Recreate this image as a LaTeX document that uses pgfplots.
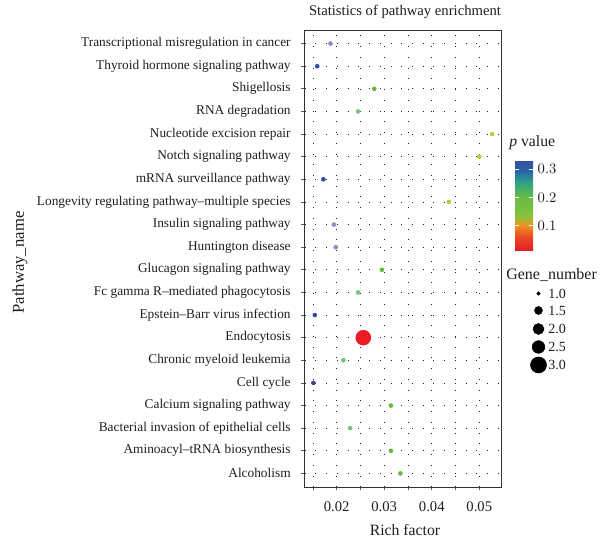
\documentclass[border=0pt]{standalone}
\usepackage{pgfplots}
\pgfplotsset{compat=1.18}
\usepackage{fontspec}
\setmainfont{Liberation Serif}
\definecolor{cblue}{RGB}{51,73,165}
\definecolor{clav}{RGB}{142,134,201}
\definecolor{cgrl}{RGB}{136,143,196}
\definecolor{cgreen}{RGB}{98,186,60}
\definecolor{cmint}{RGB}{118,196,124}
\definecolor{cyg}{RGB}{178,210,53}
\definecolor{cred}{RGB}{237,28,36}
\definecolor{txt}{RGB}{30,30,30}
\begin{document}
\begin{tikzpicture}[x=0.75pt,y=0.75pt]
\useasboundingbox (0,0) rectangle (600,541);
\begin{axis}[
  at={(228.5pt,40.5pt)}, anchor=south west,
  scale only axis, width=147.25pt, height=342.75pt,
  xmin=0.01326, xmax=0.05457, ymin=0.4, ymax=20.6,
  xtick={0.02,0.03,0.04,0.05},
  minor xtick={0.015,0.025,0.035,0.045},
  scaled x ticks=false,
  ytick={1,...,20},
  yticklabels={Alcoholism,
    Aminoacyl--tRNA biosynthesis,
    Bacterial invasion of epithelial cells,
    Calcium signaling pathway,
    Cell cycle,
    Chronic myeloid leukemia,
    Endocytosis,
    Epstein--Barr virus infection,
    Fc gamma R--mediated phagocytosis,
    Glucagon signaling pathway,
    Huntington disease,
    Insulin signaling pathway,
    Longevity regulating pathway--multiple species,
    mRNA surveillance pathway,
    Notch signaling pathway,
    Nucleotide excision repair,
    RNA degradation,
    Shigellosis,
    Thyroid hormone signaling pathway,
    Transcriptional misregulation in cancer},
  xtick pos=left, ytick pos=left,
  tick align=outside, major tick length=2.5pt, minor tick length=2.5pt,
  major tick style={black!65, line width=0.5pt},
  minor tick style={black!65, line width=0.5pt},
  axis line style={black!80, line width=0.7pt},
  xmajorgrids, xminorgrids, ymajorgrids,
  major grid style={black!85, line width=0.55pt, dash pattern=on 0.55pt off 7.5pt},
  minor grid style={black!85, line width=0.55pt, dash pattern=on 0.55pt off 7.5pt},
  yticklabel style={font=\fontsize{10}{11}\selectfont, txt, xshift=-4.5pt},
  /pgf/number format/assume math mode=true,
  xticklabel style={font=\fontsize{11}{12}\selectfont, txt, yshift=-5pt, /pgf/number format/fixed, /pgf/number format/fixed zerofill, /pgf/number format/precision=2},
  colormap={pv}{[1pt] rgb255(0pt)=(228,30,38); rgb255(16pt)=(234,80,36); rgb255(27pt)=(240,145,32); rgb255(38pt)=(135,195,62); rgb255(60pt)=(100,186,72); rgb255(76pt)=(45,160,140); rgb255(88pt)=(40,100,170); rgb255(100pt)=(56,76,160)},
  point meta min=0.014, point meta max=0.332,
  colorbar,
  colorbar style={
    at={(1.0714,0.7155)}, anchor=north west,
    scale only axis, width=13.5pt, height=67.5pt,
    ytick={0.1,0.2,0.3},
    ytick pos=both, yticklabel pos=right,
    tick align=inside, major tick length=3pt,
    major tick style={white, line width=0.5pt},
    axis line style={draw=none},
    yticklabel style={font=\fontsize{10.5}{11}\selectfont, txt, /pgf/number format/fixed, /pgf/number format/fixed zerofill, /pgf/number format/precision=1},
  },
]
% blue
\addplot[only marks, mark=*, mark size=1.5pt, color=cblue, mark options={draw=none}]
  coordinates {(0.0159,19) (0.0172,14) (0.0154,8) (0.0151,5)};
% lavender
\addplot[only marks, mark=*, mark size=1.5pt, color=clav, mark options={draw=none}]
  coordinates {(0.0187,20)};
% grey-lavender
\addplot[only marks, mark=*, mark size=1.5pt, color=cgrl, mark options={draw=none}]
  coordinates {(0.0194,12) (0.0198,11)};
% green
\addplot[only marks, mark=*, mark size=1.5pt, color=cgreen, mark options={draw=none}]
  coordinates {(0.0279,18) (0.0295,10) (0.0314,4) (0.0314,2) (0.0334,1)};
% mint
\addplot[only marks, mark=*, mark size=1.5pt, color=cmint, mark options={draw=none}]
  coordinates {(0.0245,17) (0.0245,9) (0.0214,6) (0.0228,3)};
% yellow-green
\addplot[only marks, mark=*, mark size=1.5pt, color=cyg, mark options={draw=none}]
  coordinates {(0.0527,16) (0.0500,15) (0.0436,13)};
% red, size 3
\addplot[only marks, mark=*, mark size=5.6pt, color=cred, mark options={draw=none}]
  coordinates {(0.0256,7)};
\end{axis}
% size legend, drawn through an axis in picture pixel units
\begin{axis}[
  at={(0pt,0pt)}, anchor=south west,
  scale only axis, width=450pt, height=405.75pt,
  xmin=0, xmax=600, ymin=0, ymax=541, hide axis, clip=false]
\addplot[only marks, mark=*, black, mark size=1.25pt] coordinates {(538.5,247.5)};
\addplot[only marks, mark=*, black, mark size=3pt] coordinates {(538.5,230.5)};
\addplot[only marks, mark=*, black, mark size=4.1pt] coordinates {(538.5,212)};
\addplot[only marks, mark=*, black, mark size=4.75pt] coordinates {(538.5,194)};
\addplot[only marks, mark=*, black, mark size=6pt] coordinates {(538.5,176)};
\end{axis}
\begin{scope}[every node/.style={font=\fontsize{10.5}{11}\selectfont, text=txt, inner sep=0pt}]
\node[anchor=west] at (548,247.5) {1.0};
\node[anchor=west] at (548,230.5) {1.5};
\node[anchor=west] at (548,212) {2.0};
\node[anchor=west] at (548,194) {2.5};
\node[anchor=west] at (548,176) {3.0};
\end{scope}
\node[font=\fontsize{12}{13}\selectfont, anchor=west, inner sep=0pt, text=txt] at (506,266) {Gene\_number};
\node[font=\fontsize{11.8}{13}\selectfont, anchor=west, inner sep=0pt, text=txt] at (509,398) {\textit{p} value};
\node[font=\fontsize{11}{12}\selectfont, inner sep=0pt, text=txt] at (405,529) {Statistics of pathway enrichment};
\node[font=\fontsize{11.8}{13}\selectfont, inner sep=0pt, text=txt] at (405,11) {Rich factor};
\node[font=\fontsize{12.5}{13}\selectfont, inner sep=0pt, rotate=90, text=txt] at (20,278.5) {Pathway\_name};
\end{tikzpicture}
\end{document}
